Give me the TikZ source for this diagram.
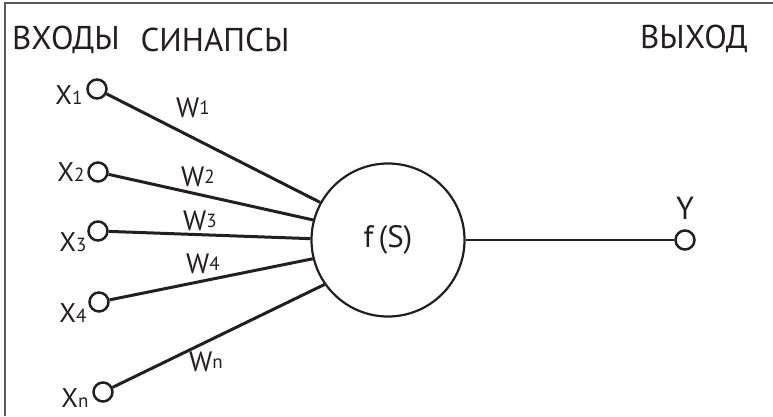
\documentclass[tikz,border=0pt]{standalone}
\usepackage{fontspec}
\setmainfont{PT Sans}

\definecolor{inkcol}{HTML}{231F20}
\definecolor{framecol}{HTML}{5A5A5A}

% small index after a letter
\newcommand{\xidx}[1]{{\fontsize{19}{19}\selectfont #1}}
\newcommand{\widx}[1]{\raisebox{3pt}{\fontsize{19}{19}\selectfont #1}}

\tikzset{
    term/.style={circle, draw=inkcol, line width=2.5pt, minimum size=19pt, inner sep=0pt},
    neuron/.style={circle, draw=inkcol, line width=2.2pt, minimum size=153pt, inner sep=0pt,
        font=\fontsize{31}{31}\selectfont, text=inkcol},
    link/.style={draw=inkcol, line width=3pt},
    head/.style={font=\fontsize{33}{33}\selectfont, text=inkcol},
    xlab/.style={font=\fontsize{27}{27}\selectfont, text=inkcol, inner sep=0pt},
    wlab/.style={font=\fontsize{28}{28}\selectfont, text=inkcol, inner sep=0pt}
}

\begin{document}
\begin{tikzpicture}[x=1pt, y=-1pt]
    \useasboundingbox (0,0) rectangle (773,416);

    % Frame (left and top edges only)
    \draw[framecol, line width=2pt] (5,416) -- (5,3) -- (773,3);

    % Headings
    \node[head] (hin)  at (66,40)  {ВХОДЫ};
    \node[head] (hsyn) at (215,40) {СИНАПСЫ};
    \node[head] (hout) at (694,39) {ВЫХОД};

    % Neuron and output
    \node[neuron] (fs) at (388,240) {f\,(S)};
    \node[term] (y) at (685,240) {};
    \node[xlab, font=\fontsize{32}{32}\selectfont] (ylab) at (685,208) {Y};
    \draw[link, line width=2.6pt] (fs) -- (y);

    % Inputs: index / x / y / angle on the neuron
    \foreach \i/\xx/\yy/\ang in {1/97/89/151, 2/98/172/165, 3/98/231/179, 4/99/302/194, n/103/392/215} {
        \node[term] (x\i) at (\xx,\yy) {};
        \draw[link] (x\i) -- (fs.\ang);
    }

    % Input labels
    \node[xlab] (lx1) at (69,95)  {X\xidx{1}};
    \node[xlab] (lx2) at (71,172) {X\xidx{2}};
    \node[xlab] (lx3) at (73,242) {X\xidx{3}};
    \node[xlab] (lx4) at (73,313) {X\xidx{4}};
    \node[xlab] (lxn) at (75,398) {X\xidx{n}};

    % Weights
    \node[wlab] (w1) at (193,108) {W\widx{1}};
    \node[wlab] (w2) at (198,177) {W\widx{2}};
    \node[wlab] (w3) at (200,221) {W\widx{3}};
    \node[wlab] (w4) at (203,264) {W\widx{4}};
    \node[wlab] (wn) at (206,362) {W\widx{n}};
\end{tikzpicture}
\end{document}
